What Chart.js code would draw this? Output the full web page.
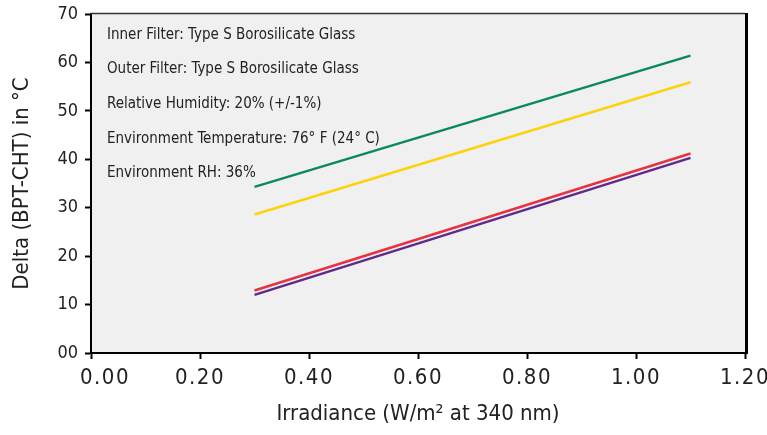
<!DOCTYPE html>
<html><head><meta charset="utf-8">
<script src="https://cdn.jsdelivr.net/npm/chart.js@4"></script>
<style>html,body{margin:0;padding:0;background:#fff;overflow:hidden}#wrap{width:767px;height:435px;position:relative}</style>
</head><body><div id="wrap"><canvas id="c" width="767" height="435"></canvas></div>
<script>
// ---- data ----
const irradiance = [0.30, 1.10];
const greenValues = [34.3, 61.4];
const yellowValues = [28.6, 55.9];
const redValues = [12.9, 41.2];
const purpleValues = [12.0, 40.3];
const xTickValues = [0, 0.2, 0.4, 0.6, 0.8, 1.0, 1.2];
const yTickValues = [0, 10, 20, 30, 40, 50, 60, 70];
const notes = [
  'Inner Filter: Type S Borosilicate Glass',
  'Outer Filter: Type S Borosilicate Glass',
  'Relative Humidity: 20% (+/-1%)',
  'Environment Temperature: 76\u00B0 F (24\u00B0 C)',
  'Environment RH: 36%'
];
const xTitle = 'Irradiance (W/m\u00B2 at 340 nm)';
const yTitle = 'Delta (BPT-CHT) in \u00B0C';

const NARROW = "'Liberation Sans Narrow','Arial Narrow','DejaVu Sans Condensed','Roboto Condensed',sans-serif";

function pts(vals){ return irradiance.map((x,i)=>({x:x, y:vals[i]})); }

const bgPlugin = {
  id:'bg',
  beforeDraw(chart){
    const {ctx, chartArea:a} = chart;
    ctx.save();
    ctx.fillStyle = '#f0f0f0';
    ctx.fillRect(a.left, a.top, a.right-a.left, a.bottom-a.top);
    ctx.restore();
  },
  afterDraw(chart){
    const {ctx, chartArea:a} = chart;
    ctx.save();
    ctx.strokeStyle = '#333';
    ctx.lineWidth = 1.5;
    ctx.beginPath(); ctx.moveTo(a.left, a.top-0.5); ctx.lineTo(a.right, a.top-0.5); ctx.stroke();
    ctx.strokeStyle = '#000';
    ctx.lineWidth = 3;
    ctx.beginPath(); ctx.moveTo(a.right+1.5, a.top-1); ctx.lineTo(a.right+1.5, a.bottom+1); ctx.stroke();
    // notes
    ctx.fillStyle = '#222';
    ctx.font = "15px " + NARROW;
    ctx.textBaseline = 'middle';
    ctx.textAlign = 'left';
    notes.forEach((t,i)=>{ ctx.fillText(t, a.left + 16, a.top + 21 + i*34.6); });
    ctx.restore();
  },
  afterUpdate(chart){
    const s = chart.scales.x;
    if (s && !s._spaced){
      const orig = s.drawLabels.bind(s);
      s.drawLabels = function(area){ const c=this.ctx; c.save(); c.letterSpacing='1.5px'; orig(area); c.restore(); };
      const origItems = s._computeLabelItems.bind(s);
      s._computeLabelItems = function(area){
        const items = origItems(area);
        if (items.length && items[0].options && items[0].options.translation) {
          items[0].options.translation[0] += 14;
        }
        return items;
      };
      s._spaced = true;
    }
  }
};

new Chart(document.getElementById('c'), {
  type:'line',
  data:{
    datasets:[
      {label:'Green', data:pts(greenValues), borderColor:'#0a8a5c'},
      {label:'Yellow', data:pts(yellowValues), borderColor:'#fdd20a'},
      {label:'Red', data:pts(redValues), borderColor:'#e5333f'},
      {label:'Purple', data:pts(purpleValues), borderColor:'#5e2a8e'}
    ].map(d=>Object.assign(d,{borderWidth:2.5, pointRadius:0, tension:0, fill:false}))
  },
  options:{
    responsive:false, animation:false,
    devicePixelRatio:1,
    layout:{padding:{top:14, right:22, left:0, bottom:0}},
    plugins:{legend:{display:false}, tooltip:{enabled:false}},
    scales:{
      x:{
        type:'linear', min:0, max:1.2,
        afterBuildTicks(s){ s.ticks = xTickValues.map(v=>({value:v})); },
        afterFit(s){ s.height = 82; s.paddingLeft = 0; s.paddingRight = 0; },
        ticks:{ callback:v=>Number(v).toFixed(2), color:'#222', font:{family:NARROW, size:22}, padding:6, maxRotation:0, autoSkip:false },
        grid:{ drawOnChartArea:false, drawTicks:true, tickLength:6, color:'#000', tickWidth:2 },
        border:{ display:true, color:'#000', width:2 },
        title:{ display:true, text:xTitle, color:'#222', font:{family:NARROW, size:22}, padding:{top:0, bottom:8} }
      },
      y:{
        type:'linear', min:0, max:70,
        afterBuildTicks(s){ s.ticks = yTickValues.map(v=>({value:v})); },
        afterFit(s){ s.width = 91; s.paddingTop = 0; s.paddingBottom = 0; },
        ticks:{ callback:v=> v===0 ? '00' : String(v), color:'#222', font:{family:NARROW, size:18}, padding:7, autoSkip:false },
        grid:{ drawOnChartArea:false, drawTicks:true, tickLength:6, color:'#000', tickWidth:2 },
        border:{ display:true, color:'#000', width:2 },
        title:{ display:true, text:yTitle, color:'#222', font:{family:NARROW, size:22}, padding:{top:9, bottom:0} }
      }
    }
  },
  plugins:[bgPlugin]
});
</script></body></html>
